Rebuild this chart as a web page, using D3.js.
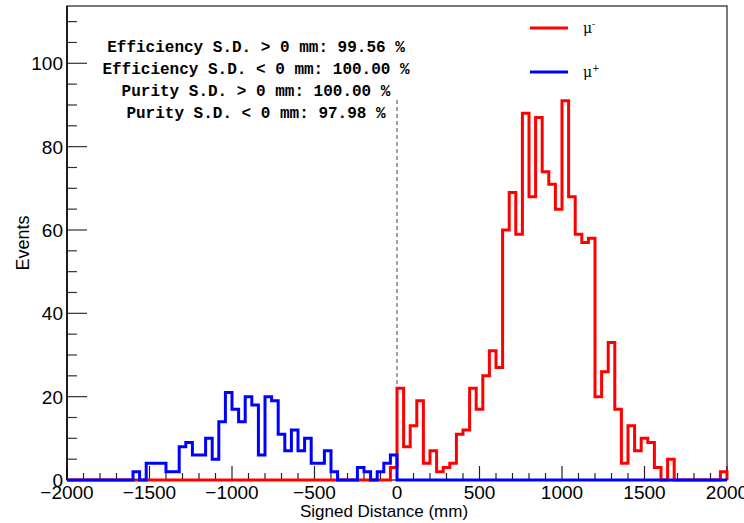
<!DOCTYPE html>
<html>
<head>
<meta charset="utf-8">
<script src="https://cdn.jsdelivr.net/npm/d3@7"></script>
<style>
  body { margin: 0; background: #fff; }
  svg { display: block; }
</style>
</head>
<body>
<script>
  // histogram binning: 100 bins of 40 mm between -2000 and 2000
  const xRange = [-2000, 2000];
  const nBins = 100;

  // mu- (red) bin contents
  const muMinus = [
    0, 0, 0, 0, 0, 0, 0, 0, 0, 0,
    0, 0, 0, 0, 0, 0, 0, 0, 0, 0,
    0, 0, 0, 0, 0, 0, 0, 0, 0, 0,
    0, 0, 0, 0, 0, 0, 0, 0, 0, 0,
    0, 0, 0, 0, 0, 0, 0, 0, 0, 3,
    22, 8, 13, 19, 4, 7, 2, 3, 4, 11,
    12, 22, 17, 25, 31, 27, 60, 69, 59, 88,
    68, 87, 74, 71, 65, 91, 68, 59, 57, 58,
    20, 26, 33, 17, 4, 13, 7, 10, 9, 3,
    0, 5, 0, 0, 0, 0, 0, 0, 0, 2
  ];

  // mu+ (blue) bin contents
  const muPlus = [
    0, 0, 0, 0, 0, 0, 0, 0, 0, 0,
    2, 0, 4, 4, 4, 2, 2, 8, 9, 6,
    6, 10, 5, 14, 21, 17, 14, 20, 18, 6,
    20, 19, 11, 7, 12, 7, 10, 4, 4, 7,
    2, 0, 0, 0, 3, 2, 0, 2, 4, 6,
    0, 0, 0, 0, 0, 0, 0, 0, 0, 0,
    0, 0, 0, 0, 0, 0, 0, 0, 0, 0,
    0, 0, 0, 0, 0, 0, 0, 0, 0, 0,
    0, 0, 0, 0, 0, 0, 0, 0, 0, 0,
    0, 0, 0, 0, 0, 0, 0, 0, 0, 0
  ];

  const xTicks = [-2000, -1500, -1000, -500, 0, 500, 1000, 1500, 2000];
  const yTicks = [0, 20, 40, 60, 80, 100];
  const yMax = 113.75;

  const infoLines = [
    'Efficiency S.D. > 0 mm: 99.56 %',
    'Efficiency S.D. < 0 mm: 100.00 %',
    'Purity S.D. > 0 mm: 100.00 %',
    'Purity S.D. < 0 mm: 97.98 %'
  ];

  const legendItems = [
    {name: '\u03bc', sup: '-', color: '#ff0000'},
    {name: '\u03bc', sup: '+', color: '#0000ff'}
  ];

  const width = 744;
  const height = 523;
  const margin = {left: 67, right: 17, top: 6, bottom: 43};

  const x = d3.scaleLinear()
    .domain(xRange)
    .range([margin.left, width - margin.right]);

  const y = d3.scaleLinear()
    .domain([0, yMax])
    .range([height - margin.bottom, margin.top]);

  const binWidth = (xRange[1] - xRange[0]) / nBins;

  const svg = d3.select('body')
    .append('svg')
    .attr('width', width)
    .attr('height', height);

  // frame
  svg.append('rect')
    .attr('x', x(xRange[0]))
    .attr('y', y(yMax))
    .attr('width', x(xRange[1]) - x(xRange[0]))
    .attr('height', y(0) - y(yMax))
    .attr('fill', 'none')
    .attr('stroke', '#222')
    .attr('stroke-width', 1.2);

  // axes, ROOT style: ticks pointing inwards
  const xAxis = d3.axisTop(x)
    .tickValues(d3.range(-2000, 2001, 100))
    .tickSize(0)
    .tickFormat('');

  const xg = svg.append('g')
    .attr('transform', `translate(0, ${y(0)})`);

  xg.selectAll('line')
    .data(d3.range(-2000, 2001, 100))
    .enter()
    .append('line')
    .attr('x1', d => x(d))
    .attr('x2', d => x(d))
    .attr('y1', 0)
    .attr('y2', d => d % 500 === 0 ? -14 : -7)
    .attr('stroke', '#222')
    .attr('stroke-width', 1.2);

  xg.selectAll('text')
    .data(xTicks)
    .enter()
    .append('text')
    .attr('x', d => x(d))
    .attr('y', 19)
    .attr('text-anchor', 'middle')
    .attr('font-family', 'Liberation Sans, Arial, sans-serif')
    .attr('font-size', 19)
    .text(d => d < 0 ? '\u2212' + Math.abs(d) : d);

  const yg = svg.append('g')
    .attr('transform', `translate(${x(xRange[0])}, 0)`);

  yg.selectAll('line')
    .data(d3.range(0, 111, 5))
    .enter()
    .append('line')
    .attr('x1', 0)
    .attr('x2', d => d % 20 === 0 ? 20 : 10)
    .attr('y1', d => y(d))
    .attr('y2', d => y(d))
    .attr('stroke', '#333')
    .attr('stroke-width', 1.2);

  yg.selectAll('text')
    .data(yTicks)
    .enter()
    .append('text')
    .attr('x', -4)
    .attr('y', d => y(d) + 7)
    .attr('text-anchor', 'end')
    .attr('font-family', 'Liberation Sans, Arial, sans-serif')
    .attr('font-size', 19)
    .text(d => d);

  svg.append('line')
    .attr('x1', x(xRange[0]))
    .attr('x2', x(xRange[0]))
    .attr('y1', y(0))
    .attr('y2', y(yMax))
    .attr('stroke', '#000')
    .attr('stroke-width', 1.5);

  // axis titles
  svg.append('text')
    .attr('x', 384)
    .attr('y', 517)
    .attr('text-anchor', 'middle')
    .attr('font-family', 'Liberation Sans, Arial, sans-serif')
    .attr('font-size', 17)
    .text('Signed Distance (mm)');

  svg.append('text')
    .attr('transform', 'translate(29, 243) rotate(-90)')
    .attr('text-anchor', 'middle')
    .attr('font-family', 'Liberation Sans, Arial, sans-serif')
    .attr('font-size', 18)
    .text('Events');

  // dashed line at zero
  svg.append('line')
    .attr('x1', x(0))
    .attr('x2', x(0))
    .attr('y1', 100)
    .attr('y2', y(0))
    .attr('stroke', '#444')
    .attr('stroke-width', 1)
    .attr('stroke-dasharray', '4,3');

  // step outline of a histogram
  function stepPoints(values) {
    const pts = [[xRange[0], 0]];
    values.forEach((v, i) => {
      const lo = xRange[0] + i * binWidth;
      pts.push([lo, v], [lo + binWidth, v]);
    });
    pts.push([xRange[1], 0]);
    return pts;
  }

  const line = d3.line()
    .x(d => x(d[0]))
    .y(d => y(d[1]));

  [muMinus, muPlus].forEach((vals, i) => {
    svg.append('path')
      .datum(stepPoints(vals))
      .attr('d', line)
      .attr('fill', 'none')
      .attr('stroke', legendItems[i].color)
      .attr('stroke-width', 3)
      .attr('stroke-linejoin', 'miter');
  });

  // efficiency / purity box
  svg.selectAll('.info')
    .data(infoLines)
    .enter()
    .append('text')
    .attr('class', 'info')
    .attr('x', 256)
    .attr('y', (d, i) => 52 + i * 22)
    .attr('text-anchor', 'middle')
    .attr('font-family', 'Liberation Mono, Courier New, monospace')
    .attr('font-weight', 'bold')
    .attr('font-size', 16)
    .text(d => d);

  // legend
  const leg = svg.selectAll('.leg')
    .data(legendItems)
    .enter()
    .append('g')
    .attr('class', 'leg')
    .attr('transform', (d, i) => `translate(530, ${28 + i * 44})`);

  leg.append('line')
    .attr('x1', 0)
    .attr('x2', 38)
    .attr('stroke', d => d.color)
    .attr('stroke-width', 3);

  const lt = leg.append('text')
    .attr('x', 53)
    .attr('y', 5)
    .attr('font-family', 'DejaVu Serif, serif')
    .attr('font-size', 14);
  lt.append('tspan').text(d => d.name);
  lt.append('tspan')
    .attr('dy', -6)
    .attr('font-size', 9)
    .text(d => d.sup);
</script>
</body>
</html>
